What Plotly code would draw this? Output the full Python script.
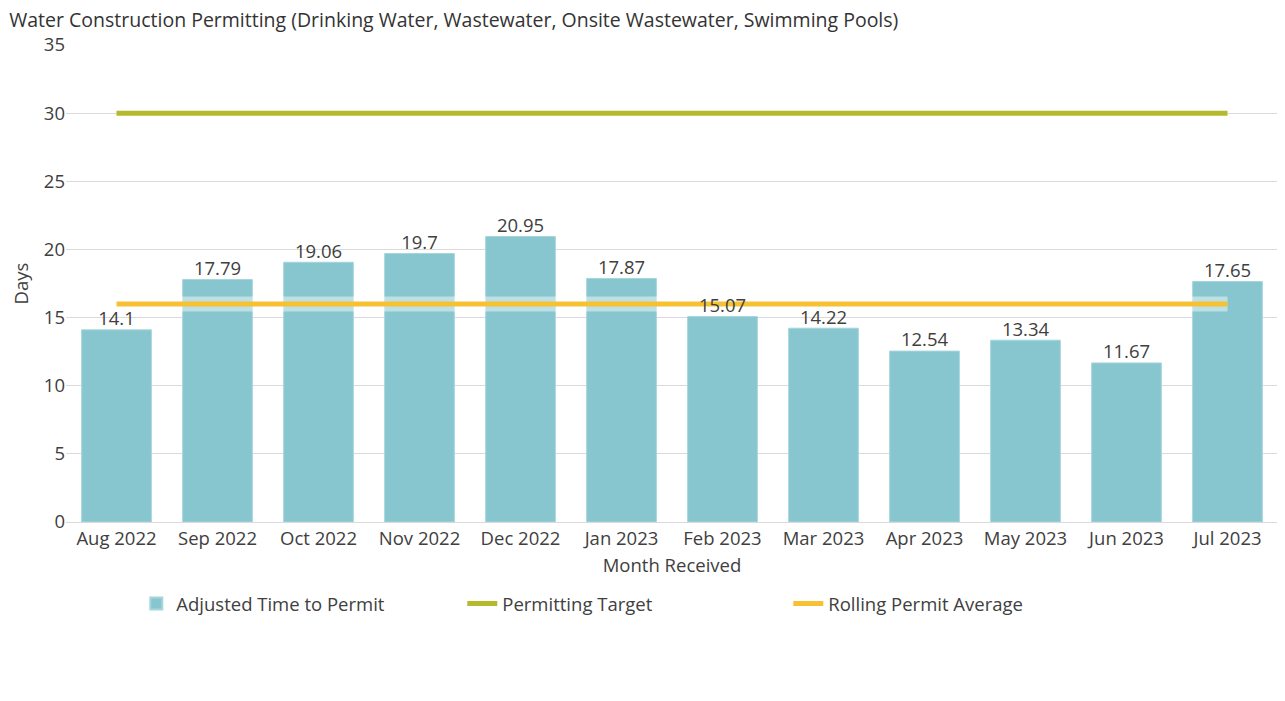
import plotly.graph_objects as go

months = ["Aug 2022", "Sep 2022", "Oct 2022", "Nov 2022", "Dec 2022", "Jan 2023",
          "Feb 2023", "Mar 2023", "Apr 2023", "May 2023", "Jun 2023", "Jul 2023"]
adjusted_days = [14.1, 17.79, 19.06, 19.7, 20.95, 17.87, 15.07, 14.22, 12.54, 13.34, 11.67, 17.65]
target_days = [30] * 12
rolling_avg = [16] * 12

FONT = "Open Sans, Noto Sans, sans-serif"
TEXT = "#404040"

fig = go.Figure()

# Bars
fig.add_trace(go.Bar(
    x=months,
    y=adjusted_days,
    name="Adjusted Time to Permit",
    marker=dict(color="#87C6CF", line=dict(color="#A6D5DC", width=1)),
    width=0.69,
    hoverinfo="x+y",
))

# Target line
fig.add_trace(go.Scatter(
    x=months,
    y=target_days,
    mode="lines",
    name="Permitting Target",
    line=dict(color="#B5BA2C", width=5),
))

# White halo under the rolling average
fig.add_trace(go.Scatter(
    x=months,
    y=rolling_avg,
    mode="lines",
    showlegend=False,
    hoverinfo="skip",
    line=dict(color="rgba(255,255,255,0.45)", width=15),
))

fig.add_trace(go.Scatter(
    x=months,
    y=rolling_avg,
    mode="lines",
    name="Rolling Permit Average",
    line=dict(color="#F6C233", width=5),
))

# Value labels on top of everything
fig.add_trace(go.Scatter(
    x=months,
    y=adjusted_days,
    mode="text",
    text=[f"{v:g}" for v in adjusted_days],
    textposition="top center",
    textfont=dict(size=18.5, color=TEXT, family=FONT),
    showlegend=False,
    hoverinfo="skip",
    cliponaxis=False,
))

fig.update_layout(
    width=1275,
    height=690,
    template="plotly_white",
    font=dict(family=FONT, color=TEXT, size=18),
    title=dict(
        text="Water Construction Permitting (Drinking Water, Wastewater, Onsite Wastewater, Swimming Pools)",
        x=0.001, xanchor="left", y=0.982, yanchor="middle",
        pad=dict(l=0, t=0, b=0, r=0),
        font=dict(size=19.5, color="#333333", family=FONT),
    ),
    margin=dict(l=58, r=5, t=37, b=176),
    bargap=0.31,
    showlegend=True,
    legend=dict(
        orientation="h",
        x=0.058, xanchor="left",
        y=-0.132, yanchor="top",
        entrywidth=281, entrywidthmode="pixels",
        font=dict(size=18.5, color=TEXT, family=FONT),
        itemsizing="constant",
        traceorder="normal",
    ),
    plot_bgcolor="white",
    paper_bgcolor="white",
)

fig.update_xaxes(
    title=dict(text="Month Received", font=dict(size=18.5, color=TEXT), standoff=10),
    tickfont=dict(size=18.5, color=TEXT),
    range=[-0.5, 11.5],
    showgrid=False,
    showline=False,
    ticks="",
    ticklabelstandoff=3,
    automargin=False,
)
fig.update_yaxes(
    title=dict(text="Days", font=dict(size=18.5, color=TEXT), standoff=12),
    range=[0, 35],
    dtick=5,
    tickfont=dict(size=18.5, color=TEXT),
    gridcolor="#DADADA",
    gridwidth=1,
    zeroline=True,
    zerolinecolor="#DADADA",
    zerolinewidth=1,
    automargin=False,
)

fig.write_html("out.html")
